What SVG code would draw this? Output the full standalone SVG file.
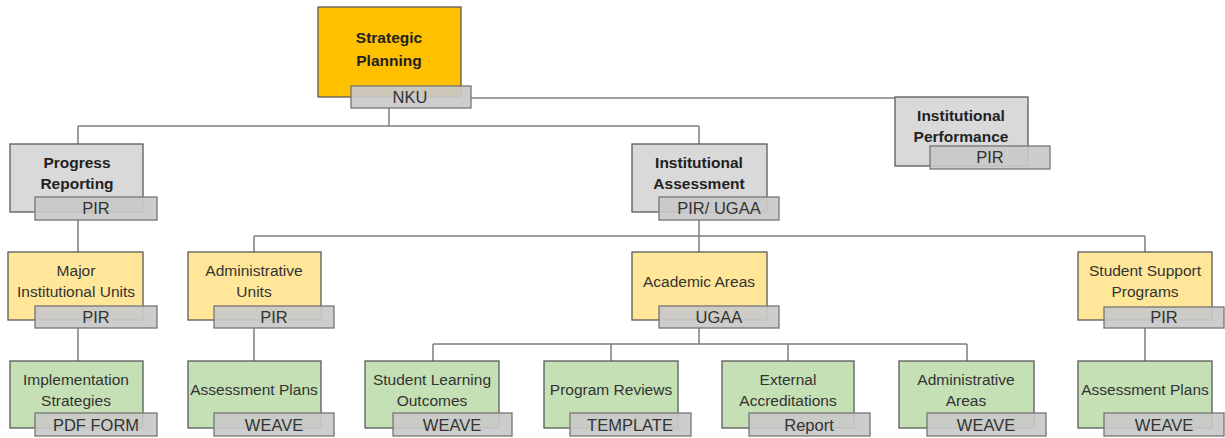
<svg xmlns="http://www.w3.org/2000/svg" width="1225" height="438" viewBox="0 0 1225 438">
<style>
.n{stroke:#5a5a5a;stroke-width:1.3}
.org{fill:#FFC000}
.gry{fill:#D9D9D9}
.yel{fill:#FFE699}
.grn{fill:#C5E0B4}
.lb{fill:#C9C9C9;fill-opacity:0.92;stroke:#767676;stroke-width:1.3}
.t{font-family:"Liberation Sans",Arial,sans-serif;font-size:15.5px;fill:#333;text-anchor:middle;dominant-baseline:central}
.b{font-weight:bold;font-size:15.5px;fill:#222}
.l{font-family:"Liberation Sans",Arial,sans-serif;font-size:16.5px;fill:#333;text-anchor:middle;dominant-baseline:central}
.c{stroke:#7f7f7f;stroke-width:1.5;fill:none}
</style>
<g id="connectors">
<path class="c" d="M471 98H895"/>
<path class="c" d="M389 108V126M78 126H699M78 126V144M699 126V144"/>
<path class="c" d="M78 220V252M699 220V252M254 236H1145M254 236V252M1145 236V252"/>
<path class="c" d="M78 328V361M254 328V361M1145 328V361"/>
<path class="c" d="M699 328V344M433 344H967M433 344V361M611 344V361M788 344V361M967 344V361"/>
</g>
<g id="strategic-planning">
<rect class="n org" x="318" y="7" width="143" height="90"/>
<text class="t b" x="389" y="37">Strategic</text>
<text class="t b" x="389" y="60">Planning</text>
<rect class="lb" x="351" y="86" width="120" height="22"/>
<text class="l" x="410" y="97">NKU</text>
</g>
<g id="institutional-performance">
<rect class="n gry" x="895" y="97" width="133" height="69"/>
<text class="t b" x="961" y="115">Institutional</text>
<text class="t b" x="961" y="136">Performance</text>
<rect class="lb" x="930" y="146" width="120" height="23"/>
<text class="l" x="990" y="157">PIR</text>
</g>
<g id="progress-reporting">
<rect class="n gry" x="10" y="144" width="133" height="68"/>
<text class="t b" x="77" y="162">Progress</text>
<text class="t b" x="77" y="183">Reporting</text>
<rect class="lb" x="35" y="197" width="122" height="23"/>
<text class="l" x="96" y="208">PIR</text>
</g>
<g id="institutional-assessment">
<rect class="n gry" x="632" y="144" width="135" height="68"/>
<text class="t b" x="699" y="162">Institutional</text>
<text class="t b" x="699" y="183">Assessment</text>
<rect class="lb" x="659" y="197" width="120" height="23"/>
<text class="l" x="719" y="208">PIR/ UGAA</text>
</g>
<g id="major-institutional-units">
<rect class="n yel" x="8" y="252" width="135" height="68"/>
<text class="t" x="76" y="270">Major</text>
<text class="t" x="76" y="291">Institutional Units</text>
<rect class="lb" x="35" y="306" width="122" height="22"/>
<text class="l" x="96" y="317">PIR</text>
</g>
<g id="administrative-units">
<rect class="n yel" x="188" y="252" width="133" height="68"/>
<text class="t" x="254" y="270">Administrative</text>
<text class="t" x="254" y="291">Units</text>
<rect class="lb" x="214" y="306" width="120" height="22"/>
<text class="l" x="274" y="317">PIR</text>
</g>
<g id="academic-areas">
<rect class="n yel" x="632" y="252" width="135" height="68"/>
<text class="t" x="699" y="281">Academic Areas</text>
<rect class="lb" x="659" y="306" width="120" height="22"/>
<text class="l" x="719" y="317">UGAA</text>
</g>
<g id="student-support-programs">
<rect class="n yel" x="1078" y="252" width="134" height="68"/>
<text class="t" x="1145" y="270">Student Support</text>
<text class="t" x="1145" y="291">Programs</text>
<rect class="lb" x="1104" y="307" width="120" height="21"/>
<text class="l" x="1164" y="317">PIR</text>
</g>
<g id="implementation-strategies">
<rect class="n grn" x="10" y="361" width="133" height="67"/>
<text class="t" x="76" y="379">Implementation</text>
<text class="t" x="76" y="400">Strategies</text>
<rect class="lb" x="35" y="413" width="122" height="23"/>
<text class="l" x="96" y="425">PDF FORM</text>
</g>
<g id="assessment-plans-admin">
<rect class="n grn" x="188" y="361" width="133" height="67"/>
<text class="t" x="254" y="389">Assessment Plans</text>
<rect class="lb" x="214" y="413" width="120" height="23"/>
<text class="l" x="274" y="425">WEAVE</text>
</g>
<g id="student-learning-outcomes">
<rect class="n grn" x="365" y="361" width="134" height="67"/>
<text class="t" x="432" y="379">Student Learning</text>
<text class="t" x="432" y="400">Outcomes</text>
<rect class="lb" x="393" y="413" width="119" height="23"/>
<text class="l" x="452" y="425">WEAVE</text>
</g>
<g id="program-reviews">
<rect class="n grn" x="544" y="361" width="134" height="67"/>
<text class="t" x="611" y="389">Program Reviews</text>
<rect class="lb" x="570" y="413" width="121" height="23"/>
<text class="l" x="630" y="425">TEMPLATE</text>
</g>
<g id="external-accreditations">
<rect class="n grn" x="722" y="361" width="132" height="67"/>
<text class="t" x="788" y="379">External</text>
<text class="t" x="788" y="400">Accreditations</text>
<rect class="lb" x="749" y="413" width="121" height="23"/>
<text class="l" x="809" y="425">Report</text>
</g>
<g id="administrative-areas">
<rect class="n grn" x="899" y="361" width="135" height="67"/>
<text class="t" x="966" y="379">Administrative</text>
<text class="t" x="966" y="400">Areas</text>
<rect class="lb" x="927" y="413" width="119" height="23"/>
<text class="l" x="986" y="425">WEAVE</text>
</g>
<g id="assessment-plans-support">
<rect class="n grn" x="1078" y="361" width="134" height="67"/>
<text class="t" x="1145" y="389">Assessment Plans</text>
<rect class="lb" x="1104" y="413" width="120" height="23"/>
<text class="l" x="1164" y="425">WEAVE</text>
</g>
</svg>
